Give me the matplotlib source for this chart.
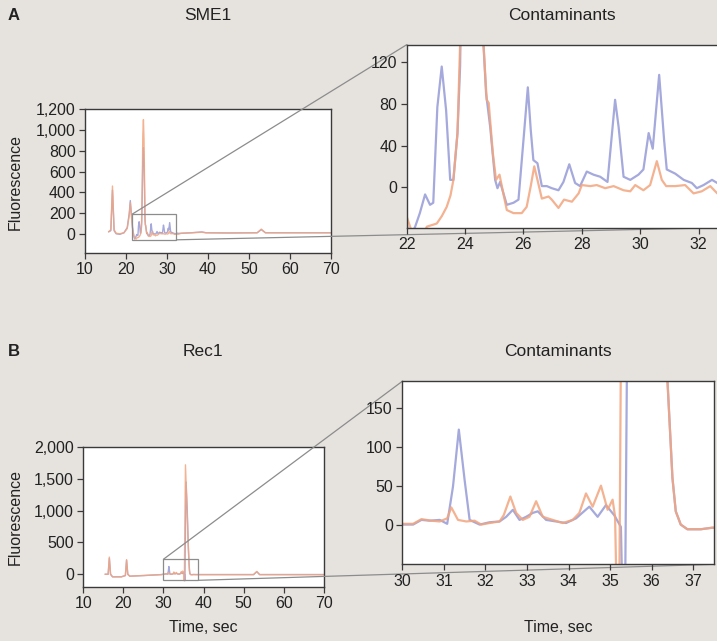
import matplotlib
matplotlib.use('Agg')
import matplotlib.pyplot as plt
from matplotlib.patches import Rectangle, ConnectionPatch
from matplotlib.ticker import FuncFormatter

plt.rcParams['font.family'] = ['Liberation Sans', 'DejaVu Sans']

# ---------------- data ----------------
# Panel A (SME1)
a_blue_t = [15.8, 16.3, 16.7, 17.1, 17.6, 18.5, 19.5, 20.3, 20.8, 21.05,
            21.3, 21.6, 21.9, 22.1, 22.29, 22.45, 22.63, 22.8, 22.91, 23.05,
            23.2, 23.35, 23.49, 23.6, 23.74, 23.83, 23.95, 24.1, 24.25, 24.4,
            24.55, 24.63, 24.72, 24.86, 25.03, 25.11, 25.2, 25.43, 25.66, 25.83,
            26.0, 26.15, 26.25, 26.34, 26.48, 26.63, 26.8, 26.97, 27.2, 27.37,
            27.57, 27.77, 27.94, 28.17, 28.4, 28.63, 28.88, 29.14, 29.26, 29.43,
            29.66, 29.94, 30.11, 30.29, 30.43, 30.65, 30.82, 30.91, 31.2, 31.49,
            31.77, 31.94, 32.17, 32.46, 32.64, 33.5, 36, 38.5, 39.5, 45,
            52, 53, 54, 60, 70]
a_blue_f = [20, 30, 420, 30, 0, -5, 10, 60, 200, 320,
            200, 60, -20, -50, -38, -25, -7, -17, -15, 77,
            116, 74, 7, 7, 52, 116, 350, 700, 830, 700,
            350, 138, 90, 58, 7, -1, 5, -17, -15, -12,
            45, 96, 55, 26, 23, 1, 1, -1, -3, 5,
            22, 4, 1, 15, 12, 10, 5, 84, 58, 10,
            7, 12, 17, 52, 37, 108, 45, 17, 13, 7,
            4, -1, 2, 7, 4, 5, 10, 18, 10, 8,
            10, 40, 10, 10, 10]

a_orange_t = [15.8, 16.3, 16.7, 17.1, 17.6, 18.5, 19.5, 20.3, 20.8, 21.05,
              21.3, 21.6, 21.9, 22.2, 22.5, 22.69, 23.03, 23.2, 23.37, 23.5,
              23.6, 23.74, 23.83, 23.95, 24.1, 24.25, 24.4, 24.55, 24.63, 24.74,
              24.81, 24.95, 25.06, 25.18, 25.31, 25.43, 25.66, 25.94, 26.11, 26.25,
              26.37, 26.48, 26.63, 26.86, 26.97, 27.2, 27.39, 27.66, 27.89, 28.0,
              28.29, 28.51, 28.8, 29.09, 29.43, 29.66, 29.83, 30.11, 30.34, 30.57,
              30.74, 30.89, 31.2, 31.54, 31.83, 32.11, 32.4, 32.64, 33.5, 36,
              38.5, 39.5, 45, 52, 53, 54, 60, 70]
a_orange_f = [20, 40, 460, 40, 5, 0, 10, 50, 180, 300,
              180, 50, -20, -45, -50, -38, -35, -28, -19, -8,
              7, 52, 138, 450, 950, 1100, 900, 420, 138, 84,
              81, 33, 7, 12, -6, -22, -25, -25, -19, 1,
              20, 7, -11, -9, -12, -20, -12, -14, -6, 2,
              1, 2, -1, 1, -3, -4, 2, -3, 2, 25,
              7, 1, 1, 2, -6, -4, 1, -6, 5, 10,
              15, 10, 8, 10, 45, 10, 10, 10]

# Panel B (Rec1)
b_blue_t = [15.5, 16.2, 16.5, 16.8, 17.3, 19.5, 20.5, 20.8, 21.1, 21.6,
            25, 29.5, 30.0, 30.26, 30.46, 30.66, 30.9, 31.08, 31.22, 31.36,
            31.5, 31.62, 31.86, 32.1, 32.34, 32.5, 32.66, 32.82, 32.98, 33.14,
            33.26, 33.46, 33.7, 33.94, 34.18, 34.5, 34.7, 34.9, 35.1, 35.26,
            35.3, 35.36, 35.42, 35.65, 35.95, 36.2, 36.38, 36.5, 36.58, 36.7,
            36.86, 37.18, 37.46, 38, 45, 52.5, 53.3, 54, 70]
b_blue_f = [0, 0, 250, 0, -40, -40, -20, 220, 0, -30,
            -20, -5, 0, 0, 6, 5, 6, 1, 49, 122,
            57, 6, 0, 3, 4, 10, 19, 6, 10, 15,
            17, 6, 4, 2, 8, 23, 10, 25, 12, -3,
            -100, -100, 300, 1450, 1000, 450, 185, 60, 17, 0,
            -6, -6, -4, -5, -5, -5, 40, -5, -5]

b_orange_t = [15.5, 16.2, 16.5, 16.8, 17.3, 19.5, 20.5, 20.8, 21.1, 21.6,
              25, 29.5, 30.0, 30.26, 30.46, 30.7, 30.9, 31.08, 31.18, 31.34,
              31.54, 31.74, 31.9, 32.1, 32.34, 32.44, 32.6, 32.74, 32.9, 33.06,
              33.22, 33.38, 33.62, 33.86, 34.1, 34.26, 34.42, 34.58, 34.78, 34.94,
              35.06, 35.12, 35.16, 35.22, 35.27, 35.5, 35.9, 36.2, 36.38, 36.5,
              36.58, 36.7, 36.86, 37.18, 37.46, 38, 45, 52.5, 53.3, 54, 70]
b_orange_f = [0, 0, 270, 0, -40, -40, -20, 230, 0, -30,
              -20, -5, 1, 1, 7, 5, 4, 8, 22, 6,
              4, 5, 0, 2, 4, 12, 36, 15, 6, 10,
              30, 10, 6, 2, 6, 15, 40, 23, 50, 19,
              32, 10, -100, -100, 300, 1720, 1000, 450, 185, 60,
              17, 0, -6, -6, -4, -5, -5, -5, 45, -5, -5]

a_over_yticks = [0, 200, 400, 600, 800, 1000, 1200]
a_zoom_yticks = [0, 40, 80, 120]
a_zoom_xticks = [22, 24, 26, 28, 30, 32]
b_over_yticks = [0, 500, 1000, 1500, 2000]
b_zoom_yticks = [0, 50, 100, 150]
b_zoom_xticks = [30, 31, 32, 33, 34, 35, 36, 37]
over_xticks = [10, 20, 30, 40, 50, 60, 70]

# ---------------- style ----------------
BG = '#e6e3df'
BLUE = '#9ba0d8'
ORANGE = '#f2a57e'
TXT = '#222222'
SP = '#3a3a3a'
GRAY = '#8c8c8c'
W, H = 717, 641

fig = plt.figure(figsize=(W / 100, H / 100), dpi=100, facecolor=BG)


def box(l, t, r, b):
    return [l / W, 1 - b / H, (r - l) / W, (b - t) / H]


def style(ax):
    ax.set_facecolor('white')
    for s in ax.spines.values():
        s.set_color(SP)
        s.set_linewidth(1.0)
    ax.tick_params(direction='out', length=4.3, width=0.9, colors=SP,
                   labelcolor=TXT, labelsize=11.5, pad=2.5)


comma = FuncFormatter(lambda v, p: f'{int(round(v)):,}')

# Panel A overview
axA = fig.add_axes(box(85, 109, 331, 253), zorder=0)
style(axA)
axA.plot(a_blue_t, a_blue_f, color=BLUE, lw=1.0, alpha=0.9)
axA.plot(a_orange_t, a_orange_f, color=ORANGE, lw=1.0, alpha=0.85)
axA.set_xlim(10, 70)
axA.set_ylim(-185, 1202)
axA.set_xticks(over_xticks)
axA.set_yticks(a_over_yticks)
axA.yaxis.set_major_formatter(comma)
axA.add_patch(Rectangle((21.5, -58), 10.8, 247, fill=False, ec=GRAY, lw=0.9, zorder=3))

# Panel A zoom
axAz = fig.add_axes(box(406.7, 44.7, 719, 227.7), zorder=2)
style(axAz)
axAz.plot(a_blue_t, a_blue_f, color=BLUE, lw=1.6, alpha=0.9)
axAz.plot(a_orange_t, a_orange_f, color=ORANGE, lw=1.6, alpha=0.85)
axAz.set_xlim(22, 32.7)
axAz.set_ylim(-39, 137)
axAz.set_xticks(a_zoom_xticks)
axAz.set_yticks(a_zoom_yticks)

# Panel B overview
axB = fig.add_axes(box(83.3, 446.7, 323.7, 587), zorder=0)
style(axB)
axB.plot(b_blue_t, b_blue_f, color=BLUE, lw=1.0, alpha=0.9)
axB.plot(b_orange_t, b_orange_f, color=ORANGE, lw=1.0, alpha=0.85)
axB.set_xlim(10, 70)
axB.set_ylim(-200, 2005)
axB.set_xticks(over_xticks)
axB.set_yticks(b_over_yticks)
axB.yaxis.set_major_formatter(comma)
axB.add_patch(Rectangle((30, -95), 8.7, 331, fill=False, ec=GRAY, lw=0.9, zorder=3))

# Panel B zoom
axBz = fig.add_axes(box(402.3, 381.3, 714, 564.3), zorder=2)
style(axBz)
axBz.plot(b_blue_t, b_blue_f, color=BLUE, lw=1.6, alpha=0.9)
axBz.plot(b_orange_t, b_orange_f, color=ORANGE, lw=1.6, alpha=0.85)
axBz.set_xlim(30, 37.5)
axBz.set_ylim(-51, 184)
axBz.set_xticks(b_zoom_xticks)
axBz.set_yticks(b_zoom_yticks)

# connector lines (drawn above overview axes, below zoom axes)
for src, p1, p2, dst in [(axA, (21.5, 189), (32.3, -58), axAz),
                         (axB, (30, 236), (38.7, -95), axBz)]:
    for p, q in [(p1, (0, 1)), (p2, (1, 0))]:
        con = ConnectionPatch(xyA=p, coordsA='data', axesA=src,
                              xyB=q, coordsB='axes fraction', axesB=dst,
                              color=GRAY, lw=0.9, zorder=1)
        fig.add_artist(con)

# texts
def ft(x, y, s, **kw):
    fig.text(x / W, 1 - y / H, s, color=TXT, **kw)

ft(8, 15, 'A', fontsize=12, fontweight='bold', ha='left', va='center')
ft(8, 352, 'B', fontsize=12, fontweight='bold', ha='left', va='center')
ft(208, 15, 'SME1', fontsize=12.5, ha='center', va='center')
ft(562, 15, 'Contaminants', fontsize=12.5, ha='center', va='center')
ft(203, 352, 'Rec1', fontsize=12.5, ha='center', va='center')
ft(558, 352, 'Contaminants', fontsize=12.5, ha='center', va='center')
ft(203, 628, 'Time, sec', fontsize=11.5, ha='center', va='center')
ft(558, 628, 'Time, sec', fontsize=11.5, ha='center', va='center')
ft(15, 182, 'Fluorescence', fontsize=11.5, ha='center', va='center', rotation=90)
ft(15, 517, 'Fluorescence', fontsize=11.5, ha='center', va='center', rotation=90)

fig.savefig('out.png', dpi=100, facecolor=BG)
